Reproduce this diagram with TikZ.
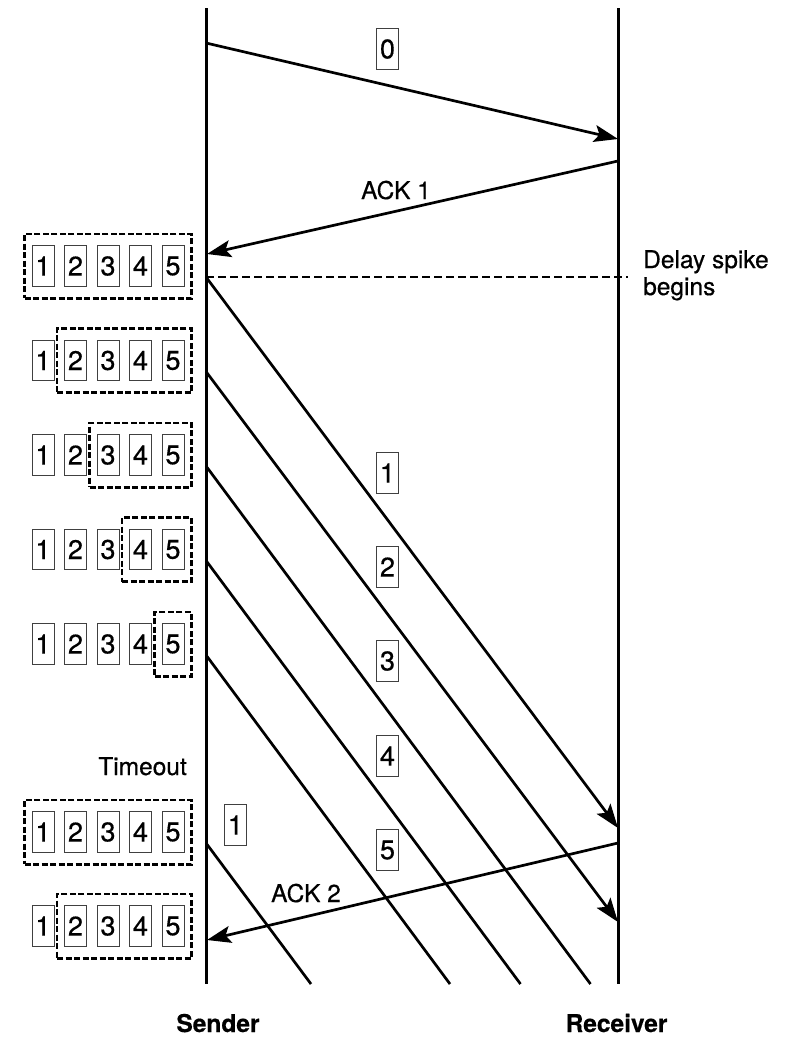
\documentclass[tikz,border=0pt]{standalone}
\usepackage{fontspec}
\setmainfont{TeX Gyre Heros}[FakeBold=0.5]
\usetikzlibrary{arrows.meta,fit}
\tikzset{
  lifeline/.style={line width=3pt},
  msg/.style={line width=2.7pt},
  msgarrow/.style={msg, -{Stealth[length=24pt,width=17pt,inset=5pt]}},
  pkt/.style={draw=black!75, line width=0.9pt, minimum width=22pt, minimum height=40.5pt, inner sep=0pt, font=\fontsize{27}{30}\selectfont},
  win/.style={draw, line width=2.6pt, dash pattern=on 6pt off 2.5pt, inner xsep=7pt, inner ysep=11.5pt},
  lbl/.style={inner sep=0pt},
  spike/.style={line width=2pt, dash pattern=on 8pt off 4pt},
}
\begin{document}
\begin{tikzpicture}[x=1pt, y=-1pt, font=\fontsize{24.5}{27}\selectfont]
\useasboundingbox (0,0) rectangle (789,1037);
% lifelines
\coordinate (sTop) at (206,8);
\coordinate (sBot) at (206,984);
\coordinate (rTop) at (618,8);
\coordinate (rBot) at (618,984);
\draw[lifeline] (sTop) -- (sBot);
\draw[lifeline] (rTop) -- (rBot);
% sender windows
\foreach \r/\y/\w in {1/266/1, 2/360.5/2, 3/455/3, 4/549.5/4, 5/644/5, 6/832/1, 7/926/2} {
  \foreach \j in {1,...,5} {
    \node[pkt] (rb\r\j) at ({43+32.5*(\j-1)}, \y) {\j};
  }
  \node[win, fit=(rb\r\w)(rb\r5)] (w\r) {};
}
% message endpoints
\coordinate (s0) at (206,43);
\coordinate (r0) at (618,139);
\coordinate (ra1) at (618,161);
\coordinate (sa1) at (207,254);
\coordinate (s1) at (206,277);
\coordinate (r1) at (618,828);
\coordinate (s2) at (206,371.5);
\coordinate (r2) at (618,922);
\coordinate (s3) at (206,466);
\coordinate (e3) at (590.5,984);
\coordinate (s4) at (206,560.5);
\coordinate (e4) at (520.5,984);
\coordinate (s5) at (206,655);
\coordinate (e5) at (450,984);
\coordinate (s6) at (206,843);
\coordinate (e6) at (311,984);
\coordinate (ra2) at (618,843);
\coordinate (sa2) at (207,940);
\coordinate (dEnd) at (628,277);
% messages
\draw[msgarrow] (s0) -- (r0);
\draw[msgarrow] (ra1) -- (sa1);
\draw[spike] (s1) -- (dEnd);
\draw[msgarrow] (s1) -- (r1);
\draw[msgarrow] (s2) -- (r2);
\draw[msg] (s3) -- (e3);
\draw[msg] (s4) -- (e4);
\draw[msg] (s5) -- (e5);
\draw[msg] (s6) -- (e6);
\draw[msgarrow] (ra2) -- (sa2);
% packet labels
\node[pkt] (lab0) at (387.5,49) {0};
\node[pkt] (lab1) at (387.5,473) {1};
\node[pkt] (lab2) at (387.5,567) {2};
\node[pkt] (lab3) at (387.5,661) {3};
\node[pkt] (lab4) at (387.5,756) {4};
\node[pkt] (lab5) at (387.5,850) {5};
\node[pkt] (labR) at (235.5,825) {1};
% texts
\node[lbl, anchor=base] (ack1) at (396,199) {ACK 1};
\node[lbl, anchor=base] (ack2) at (306,902) {ACK 2};
\node[lbl, anchor=north west, align=left] (delay) at (643,250) {Delay spike\\begins};
\node[lbl, anchor=base east] (timeout) at (187,775) {Timeout};
\node[lbl, anchor=base, font=\fontsize{24.5}{27}\selectfont\bfseries] (sender) at (218,1032) {Sender};
\node[lbl, anchor=base, font=\fontsize{24.5}{27}\selectfont\bfseries] (receiver) at (616.5,1032) {Receiver};
\end{tikzpicture}
\end{document}
